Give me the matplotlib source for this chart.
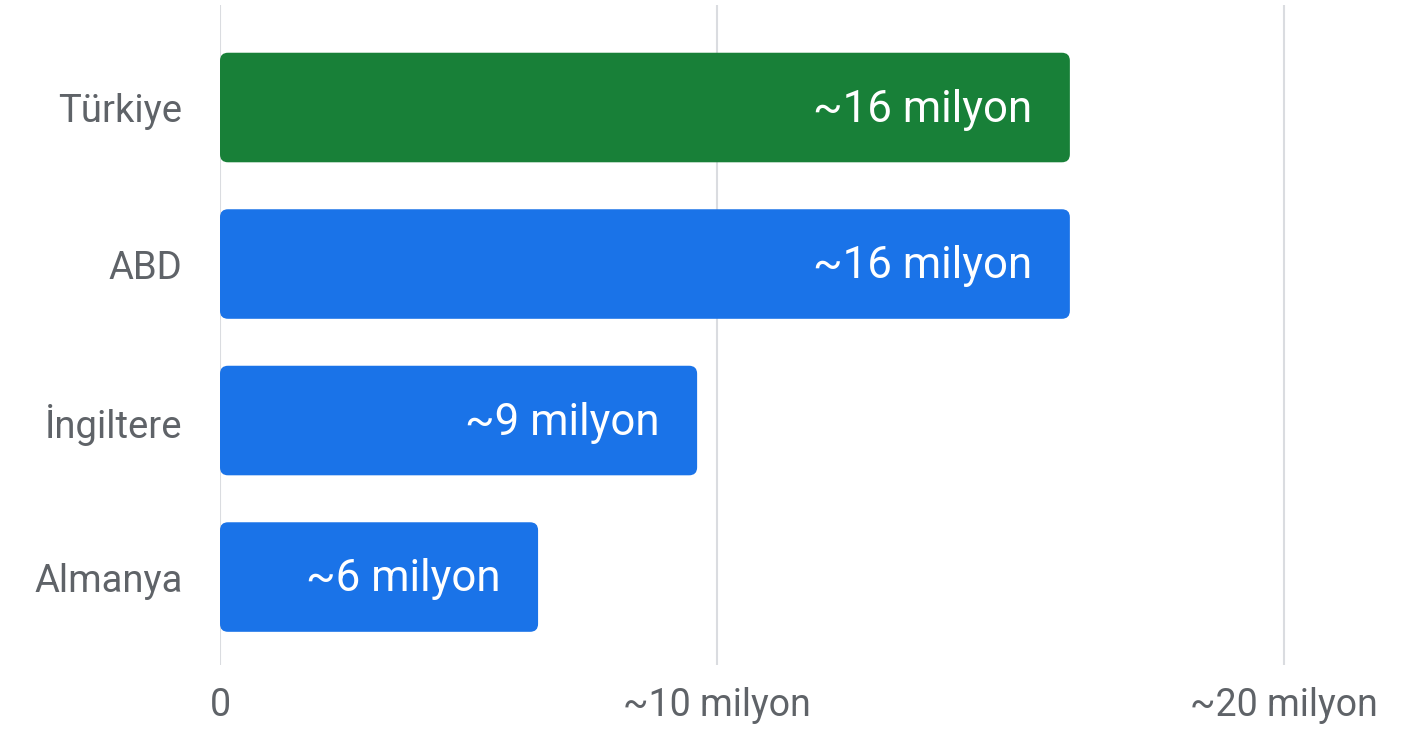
import matplotlib
matplotlib.use("Agg")
import matplotlib.pyplot as plt
from matplotlib.patches import FancyBboxPatch

categories = ["Türkiye", "ABD", "İngiltere", "Almanya"]
values = [17.1, 17.1, 9.6, 6.4]
bar_labels = ["~16 milyon", "~16 milyon", "~9 milyon", "~6 milyon"]
colors = ["#188038", "#1a73e8", "#1a73e8", "#1a73e8"]
tick_values = [0, 10, 21.4]
tick_labels = ["0", "~10 milyon", "~20 milyon"]

plt.rcParams['font.family'] = ['Roboto', 'DejaVu Sans']

W, H = 1410, 730
fig = plt.figure(figsize=(W / 100, H / 100), dpi=100)
fig.patch.set_facecolor("white")
ax = fig.add_axes([220 / W, 1 - 665 / H, (1400 - 220) / W, (665 - 5) / H])

ypos = list(range(len(categories)))
bars = ax.barh(ypos, values, height=0.7, color=colors)

ax.set_xlim(0, (1400 - 220) / 49.7)
ax.set_ylim(3.562, -0.655)

# replace rectangles with rounded versions
x_per_px = (ax.get_xlim()[1] - ax.get_xlim()[0]) / (1400 - 220)
y_per_px = (ax.get_ylim()[0] - ax.get_ylim()[1]) / (665 - 5)
r_px = 8
for b in bars:
    x, y = b.get_x(), b.get_y()
    w, h = b.get_width(), b.get_height()
    p = FancyBboxPatch((x, y), w, h,
                       boxstyle=f"round,pad=0,rounding_size={r_px * x_per_px}",
                       mutation_aspect=y_per_px / x_per_px,
                       facecolor=b.get_facecolor(), edgecolor="none", zorder=3)
    ax.add_patch(p)
    b.set_visible(False)

for yp, v, lab in zip(ypos, values, bar_labels):
    ax.annotate(lab, xy=(v, yp), xytext=(-38, -2), textcoords="offset pixels",
                ha="right", va="center", color="white", fontsize=31.5, zorder=4)

ax.set_yticks(ypos)
ax.set_yticklabels(categories, fontsize=27.5, color="#5f6368")
ax.set_xticks(tick_values)
ax.set_xticklabels(tick_labels, fontsize=27, color="#5f6368")
ax.tick_params(axis="both", length=0)
ax.tick_params(axis="y", pad=27)
ax.tick_params(axis="x", pad=16)
ax.grid(axis="x", color="#dadce0", linewidth=1.5, zorder=0)
ax.set_axisbelow(True)
for s in ax.spines.values():
    s.set_visible(False)

fig.savefig("out.png", dpi=100, facecolor="white")
